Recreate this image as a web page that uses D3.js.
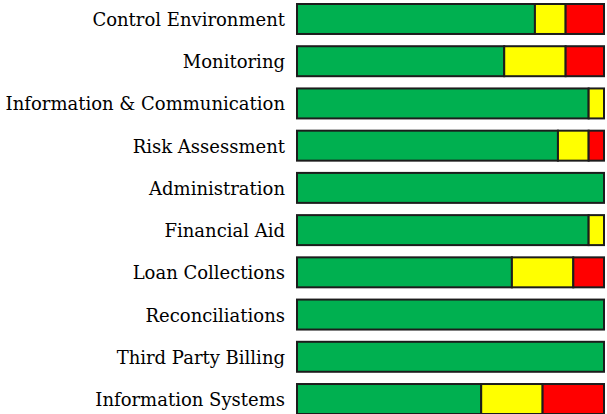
<!DOCTYPE html>
<html>
<head>
<meta charset="utf-8">
<script src="https://cdn.jsdelivr.net/npm/d3@7"></script>
<style>
  body { margin:0; background:#fff; }
  .label { font-family:"DejaVu Serif", "Liberation Serif", serif; font-size:18px; fill:#000; }
</style>
</head>
<body>
<div id="chart"></div>
<script>
// data: share of items per rating (percent)
var categories = ["Control Environment", "Monitoring", "Information & Communication",
                  "Risk Assessment", "Administration", "Financial Aid", "Loan Collections",
                  "Reconciliations", "Third Party Billing", "Information Systems"];
var green  = [77.5, 67.5, 95, 85, 100, 95, 70, 100, 100, 60];
var yellow = [10, 20, 5, 10, 0, 5, 20, 0, 0, 20];
var red    = [12.5, 12.5, 0, 5, 0, 0, 10, 0, 0, 20];
var keys = ["green", "yellow", "red"];
var colors = { green:"#00b050", yellow:"#ffff00", red:"#ff0000" };

var size = { width:607, height:414 };

var rows = categories.map(function(c, i){
    return { name:c, green:green[i], yellow:yellow[i], red:red[i] };
});

var svg = d3.select("#chart").append("svg")
    .attr("width", size.width)
    .attr("height", size.height);

var x = d3.scaleLinear().domain([0, 100]).range([297, 604]);
var y = d3.scaleBand().domain(categories).range([4, 414]).paddingInner(0.29).paddingOuter(0);

var series = d3.stack().keys(keys)(rows);

// bar segments
svg.selectAll("g.seg")
    .data(series)
    .enter().append("g")
    .attr("class", "seg")
    .attr("fill", function(d){ return colors[d.key]; })
    .selectAll("rect")
    .data(function(d){ return d.filter(function(v){ return v[1] - v[0] > 0; }); })
    .enter().append("rect")
    .attr("x", function(d){ return x(d[0]); })
    .attr("y", function(d){ return y(d.data.name); })
    .attr("width", function(d){ return x(d[1]) - x(d[0]); })
    .attr("height", y.bandwidth())
    .attr("stroke", "#1c1c1c")
    .attr("stroke-width", 2);

// category labels
svg.selectAll("text.label")
    .data(categories)
    .enter().append("text")
    .attr("class", "label")
    .attr("text-anchor", "end")
    .attr("x", 285)
    .attr("y", function(d){ return y(d) + y.bandwidth()/2 + 7; })
    .text(function(d){ return d; });
</script>
</body>
</html>
